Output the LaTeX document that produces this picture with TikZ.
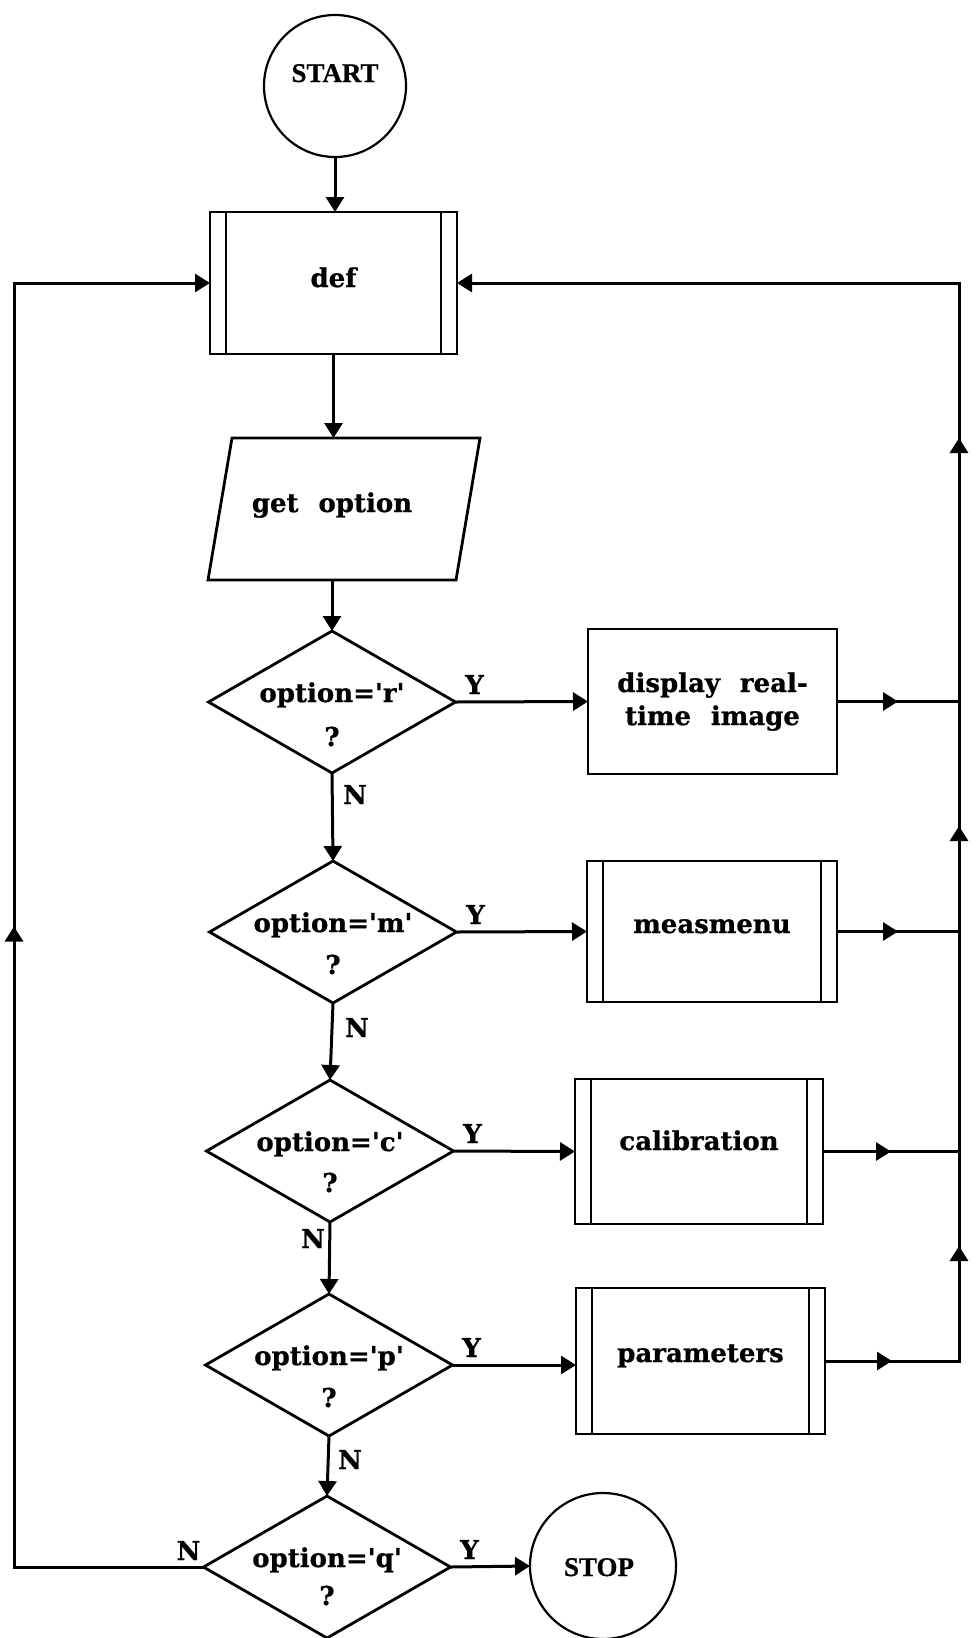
\documentclass[tikz,border=0pt]{standalone}
\usepackage{fontspec}
\setmainfont{DejaVu Serif}[WordSpace=2.2, BoldFeatures={FakeBold=0.8}]
\newfontfamily\termfont{Liberation Serif}[BoldFeatures={FakeBold=0.6}]
\usetikzlibrary{arrows.meta,shapes.geometric,decorations.markings}

\begin{document}
\begin{tikzpicture}[x=1pt,y=-1pt]
\tikzset{
  fl/.tip={Triangle[length=15pt,width=18pt]},
  every node/.style={inner sep=0pt, outer sep=0pt},
  shp/.style={draw, line width=2.8pt},
  term/.style={shp, circle, line width=2.2pt, minimum size=142pt},
  proc/.style={shp, rectangle, minimum width=249pt, minimum height=144pt},
  subproc/.style={proc, path picture={
      \draw[line width=2.2pt]
        ([xshift=16pt]path picture bounding box.north west) -- ([xshift=16pt]path picture bounding box.south west)
        ([xshift=-16pt]path picture bounding box.north east) -- ([xshift=-16pt]path picture bounding box.south east);}},
  dec/.style={shp, diamond, minimum width=247pt, minimum height=142pt},
  txt/.style={anchor=base, font=\bfseries\fontsize{26}{32}\selectfont},
  ttxt/.style={anchor=base, font=\termfont\bfseries\fontsize{27}{32}\selectfont},
  flow/.style={line width=3pt},
  arr/.style={flow, -fl},
  midarrow/.style={postaction={decorate}, decoration={markings, mark=at position #1 with {\arrow{fl}}}},
}
\useasboundingbox (0,0) rectangle (975,1638);

% shapes
\node[term] (start) at (335,86) {};
\node[subproc, minimum width=247pt, minimum height=142pt] (def) at (333.5,283) {};
\node[minimum width=248pt, minimum height=142pt] (get) at (344,509) {};
\draw[shp] ([xshift=12pt]get.north west) -- ([xshift=12pt]get.north east)
  -- ([xshift=-12pt]get.south east) -- ([xshift=-12pt]get.south west) -- cycle;

\node[dec] (r) at (332,702) {};
\node[dec] (m) at (333,932) {};
\node[dec] (c) at (330,1151) {};
\node[dec] (p) at (329,1365) {};
\node[dec] (q) at (327,1567) {};

\node[proc, minimum width=249pt, minimum height=145pt] (disp) at (712.5,701.5) {};
\node[subproc, minimum width=250pt, minimum height=141pt] (meas) at (712,931.5) {};
\node[subproc, minimum width=248pt, minimum height=145pt] (cal) at (699,1151.5) {};
\node[subproc, minimum width=249pt, minimum height=146pt] (par) at (700.5,1361) {};
\node[term, minimum size=146pt] (stop) at (603,1566) {};

\coordinate (rt) at (959,283);
\coordinate (lt) at (14,283);

% texts
\node[ttxt] (tstart) at ([yshift=4pt]start.center) {START};
\node[txt] (tdef) at ([yshift=-4pt]def.center) {def};
\node[txt] (tget) at (332,512) {get option};
\node[txt] (tdisp1) at ([yshift=9.5pt]disp.center) {display real-};
\node[txt] (tdisp2) at ([yshift=-23.5pt]disp.center) {time image};
\node[txt] (tmeas) at ([yshift=-1.5pt]meas.center) {measmenu};
\node[txt] (tcal) at ([yshift=1.5pt]cal.center) {calibration};
\node[txt] (tpar) at ([yshift=-1pt]par.center) {parameters};
\node[ttxt] (tstop) at ([xshift=-4pt,yshift=-10pt]stop.center) {STOP};

\node[txt] (tr) at (r.center) {option=\textquotesingle r\textquotesingle};
\node[txt] (tr2) at ([yshift=-44pt]r.center) {?};
\node[txt] (tm) at (m.center) {option=\textquotesingle m\textquotesingle};
\node[txt] (tm2) at ([yshift=-42pt]m.center) {?};
\node[txt] (tc) at (c.center) {option=\textquotesingle c\textquotesingle};
\node[txt] (tc2) at ([yshift=-41pt]c.center) {?};
\node[txt] (tp) at (p.center) {option=\textquotesingle p\textquotesingle};
\node[txt] (tp2) at ([yshift=-42pt]p.center) {?};
\node[txt] (tq) at (q.center) {option=\textquotesingle q\textquotesingle};
\node[txt] (tq2) at ([yshift=-38pt]q.center) {?};

\node[txt] (yr) at ([xshift=19pt,yshift=8pt]r.east) {Y};
\node[txt] (ym) at ([xshift=19pt,yshift=8pt]m.east) {Y};
\node[txt] (yc) at ([xshift=19pt,yshift=8pt]c.east) {Y};
\node[txt] (yp) at ([xshift=19pt,yshift=8pt]p.east) {Y};
\node[txt] (yq) at ([xshift=19pt,yshift=8pt]q.east) {Y};

\node[txt] (nr) at ([xshift=23pt,yshift=-31pt]r.south) {N};
\node[txt] (nm) at ([xshift=24pt,yshift=-34pt]m.south) {N};
\node[txt] (nc) at ([xshift=-17pt,yshift=-26pt]c.south) {N};
\node[txt] (np) at ([xshift=21pt,yshift=-33pt]p.south) {N};
\node[txt] (nq) at ([xshift=-15pt,yshift=7pt]q.west) {N};

% main column
\draw[arr] (start.south) -- (start.south |- def.north);
\draw[arr] (def.south) -- (def.south |- get.north);
\draw[arr] (r.north |- get.south) -- (r.north);
\draw[arr] (r.south) -- (m.north);
\draw[arr] (m.south) -- (c.north);
\draw[arr] (c.south) -- (p.north);
\draw[arr] (p.south) -- (q.north);

% yes branches
\draw[arr] (r.east) -- (disp.west);
\draw[arr] (m.east) -- (meas.west);
\draw[arr] (c.east) -- (cal.west);
\draw[arr] (p.east) -- (p.east -| par.west);
\draw[arr] (q.east) -- (stop.west);

% returns to def on the right
\draw[flow, midarrow=0.5] (disp.east) -- (disp.east -| rt);
\draw[flow, midarrow=0.5] (meas.east) -- (meas.east -| rt);
\draw[flow, midarrow=0.5] (cal.east) -- (cal.east -| rt);
\draw[arr, postaction={decorate}, decoration={markings,
    mark=at position 67pt with {\arrow{fl}},
    mark=at position 249pt with {\arrow{fl}},
    mark=at position 669pt with {\arrow{fl}},
    mark=at position 1057pt with {\arrow{fl}}}]
  (par.east) -- (par.east -| rt) -- (rt) -- (def.east);

% loop back on the left
\draw[arr, midarrow=830pt] (q.west) -- (q.west -| lt) -- (lt) -- (def.west);
\end{tikzpicture}
\end{document}
